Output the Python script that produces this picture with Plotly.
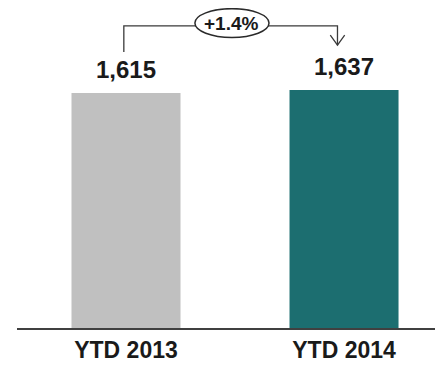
import plotly.graph_objects as go

categories = ["YTD 2013", "YTD 2014"]
values = [1615, 1637]
bar_colors = ["#c0c0c0", "#1c6e70"]
change_label = "+1.4%"

font_family = "Liberation Sans, Arial, sans-serif"
text_color = "#1a1a1a"

y_max = 2200
xs = list(range(len(categories)))

fig = go.Figure()
fig.add_trace(go.Bar(
    x=xs, y=values, marker=dict(color=bar_colors, line=dict(width=0)),
    width=0.5, hoverinfo="skip",
))

# value labels
for i, v in enumerate(values):
    fig.add_annotation(x=xs[i], y=v, text=f"<b>{v:,}</b>", showarrow=False,
                       yanchor="bottom", yshift=8,
                       font=dict(size=24, color=text_color, family=font_family))

# bracket connecting the two bars
x_left = xs[0] - 0.01
x_right = xs[1] - 0.03
top = y_max * 0.944
left_bottom = values[0] * 1.175
tip = values[1] * 1.188
arm_dx = 0.033
arm_dy = y_max * 0.031

line_style = dict(color="#3a3a3a", width=1.3)
fig.add_shape(type="path", xref="x", yref="y",
              path=f"M {x_left},{left_bottom} L {x_left},{top} L {x_right},{top} L {x_right},{tip}",
              line=line_style)
fig.add_shape(type="path", xref="x", yref="y",
              path=f"M {x_right-arm_dx},{tip+arm_dy} L {x_right},{tip} L {x_right+arm_dx},{tip+arm_dy}",
              line=line_style)

mid = (xs[0] + xs[1]) / 2 - 0.014
fig.add_shape(type="circle", xref="x", yref="y",
              x0=mid - 0.17, x1=mid + 0.17, y0=y_max * 0.908, y1=y_max * 0.998,
              fillcolor="white", line=dict(color="#2a2a2a", width=1.5))
fig.add_annotation(x=mid, y=y_max * 0.953, text=f"<b>{change_label}</b>", showarrow=False,
                   font=dict(size=19, color=text_color, family=font_family))

fig.update_layout(
    width=435, height=361,
    margin=dict(l=9, r=0, t=0, b=41),
    paper_bgcolor="white", plot_bgcolor="white",
    showlegend=False,
    xaxis=dict(range=[-0.5, 1.454], tickmode="array", tickvals=xs,
               ticktext=[f"<b>{c}</b>" for c in categories],
               tickfont=dict(size=23, color=text_color, family=font_family),
               showline=True, linecolor="#404040", linewidth=2,
               showgrid=False, zeroline=False, ticks=""),
    yaxis=dict(range=[0, y_max], visible=False, showgrid=False, zeroline=False),
)

fig.write_html("out.html")
